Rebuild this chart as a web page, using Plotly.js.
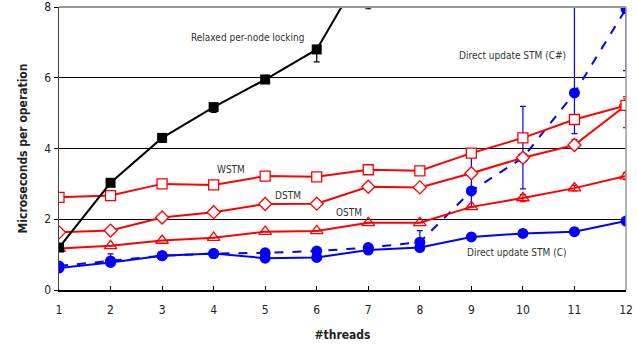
<!DOCTYPE html>
<html><head><meta charset="utf-8">
<script src="https://cdn.plot.ly/plotly-3.0.1.min.js"></script>
<style>html,body{margin:0;padding:0;background:#fff}#chart{width:637px;height:349px}</style>
</head><body><div id="chart"></div>
<script>
const threads = [1,2,3,4,5,6,7,8,9,10,11,12];

const relaxedX = [1,2,3,4,5,6,7];
const relaxed = [1.2,3.03,4.3,5.17,5.95,6.8,9.3];
const relaxedErrPlus = [0.05,0.05,0.12,0.08,0.12,0.05,0.05];
const relaxedErrMinus = [0.05,0.05,0.12,0.15,0.08,0.35,1.35];

const wstm = [2.62,2.67,3.0,2.97,3.22,3.2,3.4,3.37,3.87,4.3,4.82,5.22];
const wstmErrPlus = [0,0,0,0,0,0,0,0,0,0,0.05,0.25];
const wstmErrMinus = [0,0,0,0,0,0,0,0,0,0,0.12,0.63];

const dstm = [1.63,1.68,2.05,2.2,2.43,2.44,2.92,2.9,3.3,3.74,4.1,5.22];
const dstmErrPlus = [0,0,0,0,0,0,0,0,0,0,0.15,0.2];
const dstmErrMinus = [0,0,0,0,0,0,0,0,0,0,0.05,0.1];

const ostm = [1.17,1.25,1.4,1.48,1.65,1.67,1.9,1.9,2.35,2.6,2.88,3.22];
const ostmErrPlus = [0,0,0,0,0,0,0,0,0,0.1,0.08,0.1];
const ostmErrMinus = [0,0,0,0,0,0,0,0,0,0.1,0.08,0.1];

const cSharp = [0.68,0.82,0.97,1.03,1.05,1.1,1.2,1.35,2.8,3.74,5.57,7.95];
const cSharpErrPlus = [0.05,0.2,0.05,0.05,0.05,0.05,0.05,0.33,1.07,1.45,3,3];
const cSharpErrMinus = [0.05,0.05,0.05,0.05,0.05,0.05,0.05,0.1,0.45,0.88,1.15,1.75];

const cDirect = [0.62,0.78,0.97,1.03,0.9,0.92,1.13,1.2,1.5,1.6,1.65,1.95];

const labels = [
  {text:'Relaxed per-node locking', x:4.65, y:7.15},
  {text:'Direct update STM (C#)', x:9.8, y:6.62},
  {text:'WSTM', x:4.34, y:3.42},
  {text:'DSTM', x:5.45, y:2.66},
  {text:'OSTM', x:6.63, y:2.18},
  {text:'Direct update STM (C)', x:9.87, y:1.05}
];

const RED = '#ff0000', BLUE = '#0000ff';
function eb(plus, minus, color){
  return {type:'data', symmetric:false, array:plus, arrayminus:minus, color:color, thickness:1.2, width:3};
}

const traces = [
  {x:threads, y:cDirect, mode:'lines+markers', line:{color:BLUE,width:2},
   marker:{symbol:'circle',size:11,color:BLUE}},
  {x:threads, y:cSharp, mode:'lines+markers', line:{color:BLUE,width:2,dash:'dash'},
   marker:{symbol:'circle',size:11,color:BLUE}, error_y:eb(cSharpErrPlus,cSharpErrMinus,BLUE)},
  {x:threads, y:ostm, mode:'lines+markers', line:{color:RED,width:2},
   marker:{symbol:'triangle-up-open',size:11,color:RED,line:{width:1.3}}, error_y:eb(ostmErrPlus,ostmErrMinus,RED)},
  {x:threads, y:dstm, mode:'lines+markers', line:{color:RED,width:2},
   marker:{symbol:'diamond',size:10,color:'#fff',line:{color:RED,width:1.3}}, error_y:eb(dstmErrPlus,dstmErrMinus,RED)},
  {x:threads, y:wstm, mode:'lines+markers', line:{color:RED,width:2},
   marker:{symbol:'square',size:10,color:'#fff',line:{color:RED,width:1.3}}, error_y:eb(wstmErrPlus,wstmErrMinus,RED)},
  {x:relaxedX, y:relaxed, mode:'lines+markers', line:{color:'#000',width:2},
   marker:{symbol:'square',size:10,color:'#000'}, error_y:eb(relaxedErrPlus,relaxedErrMinus,'#000')}
];

const FONT = '"DejaVu Sans Condensed", "Liberation Sans Narrow", Arial, sans-serif';
const layout = {
  width:637, height:349,
  margin:{l:59, r:11, t:7, b:59},
  paper_bgcolor:'#fff', plot_bgcolor:'#fff',
  showlegend:false,
  font:{family:FONT, size:12, color:'#222'},
  xaxis:{range:[1,12], tickvals:threads, ticktext:threads.map(String),
    showgrid:false, zeroline:false, showline:true, linecolor:'#000', linewidth:1.5,
    ticks:'inside', ticklen:4, tickcolor:'#000', mirror:false, ticklabelstandoff:8,
    title:{text:'<b>#threads</b>', font:{family:FONT,size:12,color:'#222'}, standoff:14},
    tickfont:{family:FONT,size:12,color:'#222'}},
  yaxis:{range:[0,8], tickvals:[0,2,4,6,8], showgrid:true, gridcolor:'#000', gridwidth:1.2,
    zeroline:false, showline:true, linecolor:'#444', linewidth:1.5,
    ticks:'outside', ticklen:4, tickcolor:'#000',
    title:{text:'<b>Microseconds per operation</b>', font:{family:FONT,size:12,color:'#222'}, standoff:14},
    tickfont:{family:FONT,size:12,color:'#222'}},
  shapes:[
    {type:'line', xref:'paper', yref:'paper', x0:1, x1:1, y0:0, y1:1, line:{color:'#999',width:1.5}},
    {type:'line', xref:'paper', yref:'paper', x0:0, x1:1, y0:1, y1:1, line:{color:'#999',width:2}}
  ],
  annotations: labels.map(l => ({text:l.text, x:l.x, y:l.y, xref:'x', yref:'y', showarrow:false,
    font:{family:FONT, size:10, color:'#333'}}))
};

Plotly.newPlot('chart', traces, layout, {displayModeBar:false, staticPlot:true});
</script></body></html>
